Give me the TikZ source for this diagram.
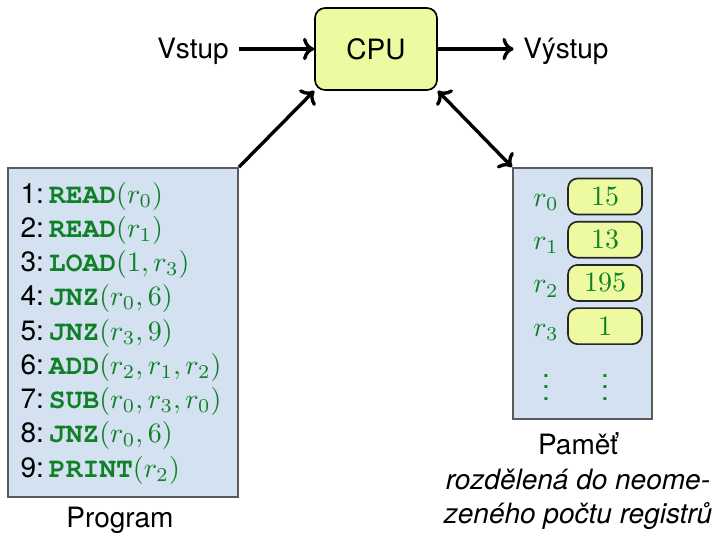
\documentclass[tikz,border=0pt]{standalone}
\usepackage{fontspec}
\setmainfont{TeX Gyre Heros}
\newfontfamily\codefont{texgyrecursor-bold.otf}
\usetikzlibrary{arrows.meta}

\definecolor{codegreen}{RGB}{16,128,40}
\definecolor{panelblue}{RGB}{211,225,240}
\definecolor{cellyellow}{RGB}{238,250,160}
\definecolor{frameg}{RGB}{90,90,90}

% one pixel of the layout grid
\newcommand{\pxlen}{0.35714pt}
% an instruction: bold mnemonic plus its operands in math
\newcommand{\instr}[2]{\textcolor{codegreen}{{\codefont #1}$#2$}}

\tikzset{
  panel/.style={draw=frameg, line width=0.7pt, fill=panelblue, inner sep=0pt},
  cpubox/.style={draw=black, line width=0.6pt, fill=cellyellow, rounded corners=3.6pt,
    minimum width=122*\pxlen, minimum height=82*\pxlen},
  cell/.style={draw=black!85, line width=0.6pt, fill=cellyellow, rounded corners=3.4pt,
    minimum width=74*\pxlen, minimum height=36*\pxlen, inner sep=0pt, text=codegreen},
  reglabel/.style={text=codegreen, anchor=base, inner sep=0pt},
  codeline/.style={anchor=base west, inner sep=0pt},
  tipshape/.style={},
  link/.style={line width=1.2pt, -{Computer Modern Rightarrow[length=4pt,width=8pt]}},
  dlink/.style={line width=1.2pt, {Computer Modern Rightarrow[length=4pt,width=8pt]}-{Computer Modern Rightarrow[length=4pt,width=8pt]}},
}

\begin{document}
\begin{tikzpicture}[x=0.35714pt, y=-0.35714pt, font=\fontsize{10}{12}\selectfont]
\useasboundingbox (0,0) rectangle (725,533);

% processor with input and output
\node[cpubox] (cpu) at (376,49) {CPU};
\node[anchor=base] (in) at (193,58) {Vstup};
\node[anchor=base] (out) at (566,58) {Výstup};
\draw[link] (in.east |- cpu.west) -- (cpu.west);
\draw[link] (cpu.east) -- (out.west |- cpu.east);

% program listing
\node[panel, minimum width=230*\pxlen, minimum height=329*\pxlen] (prog) at (123,332.5) {};
\foreach \i/\m/\a in {1/READ/{(r_0)}, 2/READ/{(r_1)}, 3/LOAD/{(1,r_3)},
    4/JNZ/{(r_0,6)}, 5/JNZ/{(r_3,9)}, 6/ADD/{(r_2,r_1,r_2)},
    7/SUB/{(r_0,r_3,r_0)}, 8/JNZ/{(r_0,6)}, 9/PRINT/{(r_2)}}
  \node[codeline] (l\i) at (20,{203+34.25*(\i-1)}) {\i:\hspace{1.8pt}\instr{\m}{\a}};
\node[anchor=base] (proglabel) at (120,527) {Program};

% memory registers
\node[panel, minimum width=139*\pxlen, minimum height=251*\pxlen] (mem) at (582.5,293.5) {};
\foreach \i/\v in {0/15, 1/13, 2/195, 3/1} {
  \node[cell] (c\i) at (605,{196.5+43.2*\i}) {$\v$};
  \node[reglabel] (r\i) at (546,{206.5+43.2*\i}) {$r_\i$};
}
\node[text=codegreen] (vd1) at (546,379) {$\vdots$};
\node[text=codegreen] (vd2) at (605,379) {$\vdots$};
\node[anchor=north, align=center, inner sep=0pt] (memlabel) at (578,432)
  {Paměť\\[0.6pt] \textit{rozdělená do neome-}\\ \textit{zeného počtu registrů}};

% connections to the processor
\draw[link] (prog.north east) -- (cpu.south west);
\draw[dlink] (cpu.south east) -- (mem.north west);
\end{tikzpicture}
\end{document}
